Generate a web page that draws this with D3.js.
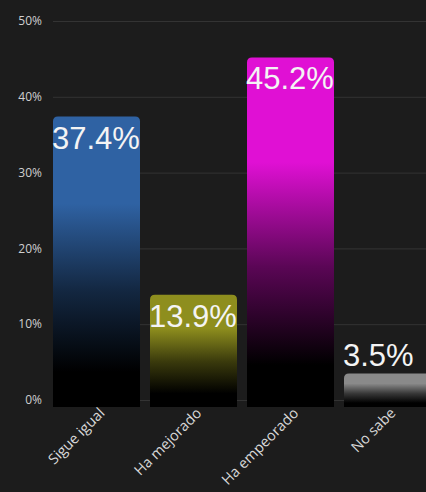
<!DOCTYPE html>
<html>
<head>
<meta charset="utf-8">
<script src="https://cdn.jsdelivr.net/npm/d3@7"></script>
<style>
  html, body { margin: 0; padding: 0; background: #1c1c1c; }
  svg { display: block; }
</style>
</head>
<body>
<div id="chart"></div>
<script>
const categories = ['Sigue igual', 'Ha mejorado', 'Ha empeorado', 'No sabe'];
const values = [37.4, 13.9, 45.2, 3.5];
const barColors = ['#2f62a3', '#8e8e1e', '#e010d4', '#8a8a8a'];
const yTicks = [0, 10, 20, 30, 40, 50];

const width = 426, height = 492;
const margin = { top: 21, left: 53, bottom: 92 };

const svg = d3.select('#chart').append('svg')
  .attr('width', width)
  .attr('height', height);

const defs = svg.append('defs');

const y = d3.scaleLinear()
  .domain([0, 50])
  .range([height - margin.bottom, margin.top]);

// step 97px, bar 87px
const x = d3.scaleBand()
  .domain(categories)
  .range([margin.left, margin.left + 97 * 4 - 10])
  .paddingInner(10 / 97)
  .paddingOuter(0);

// gridlines
svg.append('g')
  .selectAll('line')
  .data(yTicks)
  .enter()
  .append('line')
  .attr('x1', margin.left)
  .attr('x2', width)
  .attr('y1', d => y(d) + 0.5)
  .attr('y2', d => y(d) + 0.5)
  .attr('stroke', '#333')
  .attr('stroke-width', 1);

// y labels
svg.append('g')
  .selectAll('text')
  .data(yTicks)
  .enter()
  .append('text')
  .attr('x', 42)
  .attr('y', d => y(d))
  .attr('dy', '0.35em')
  .attr('text-anchor', 'end')
  .attr('fill', '#cfcfcf')
  .style('font', '12px "Open Sans", sans-serif')
  .text(d => d + '%');

// gradients, one per bar
categories.forEach(function(c, i) {
  const g = defs.append('linearGradient')
    .attr('id', 'grad' + i)
    .attr('x1', 0).attr('y1', 0).attr('x2', 0).attr('y2', 1);
  g.append('stop').attr('offset', '0%').attr('stop-color', barColors[i]);
  g.append('stop').attr('offset', '30%').attr('stop-color', barColors[i]);
  g.append('stop').attr('offset', '60%').attr('stop-color', d3.interpolateRgb(barColors[i], '#000')(0.6));
  g.append('stop').attr('offset', '88%').attr('stop-color', '#000');
  g.append('stop').attr('offset', '100%').attr('stop-color', '#000');
});

const base = y(0) + 7;
const r = 5;

function barPath(x0, y0, w, y1) {
  return `M${x0},${y1} L${x0},${y0 + r} Q${x0},${y0} ${x0 + r},${y0} ` +
    `L${x0 + w - r},${y0} Q${x0 + w},${y0} ${x0 + w},${y0 + r} L${x0 + w},${y1} Z`;
}

svg.append('g')
  .selectAll('path')
  .data(values)
  .enter()
  .append('path')
  .attr('d', (d, i) => barPath(x(categories[i]), y(d), x.bandwidth(), base))
  .attr('fill', (d, i) => 'url(#grad' + i + ')');

// value labels
svg.append('g')
  .selectAll('text')
  .data(values)
  .enter()
  .append('text')
  .attr('x', (d, i) => x(categories[i]) - 1)
  .attr('y', d => (base - y(d) > 40 ? y(d) + 32 : y(d) - 7))
  .attr('fill', '#f4f4f4')
  .style('font', '31px "Liberation Sans", Arial, sans-serif')
  .text(d => d.toFixed(1) + '%');

// x labels
svg.append('g')
  .selectAll('text')
  .data(categories)
  .enter()
  .append('text')
  .attr('transform', d => `translate(${x(d) + x.bandwidth() / 2 + 9},${base + 7}) rotate(-45)`)
  .attr('text-anchor', 'end')
  .attr('fill', '#d8d8d8')
  .style('font', '14.5px "Open Sans", sans-serif')
  .text(d => d);
</script>
</body>
</html>
